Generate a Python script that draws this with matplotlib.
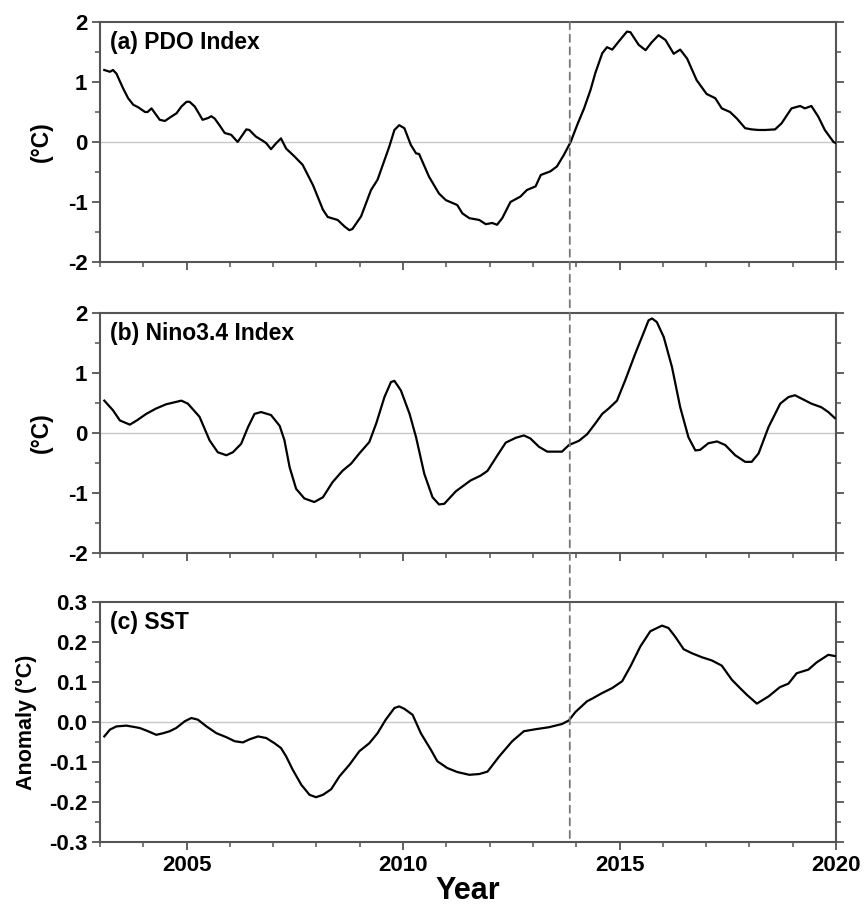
import matplotlib
matplotlib.use('Agg')
import matplotlib.pyplot as plt
from matplotlib.patches import ConnectionPatch
from matplotlib.ticker import MultipleLocator, FormatStrFormatter

plt.rcParams['font.family'] = ['Liberation Sans', 'DejaVu Sans']
plt.rcParams['font.weight'] = 'bold'
plt.rcParams['axes.unicode_minus'] = False

# (a) PDO index
pdo_year = [2003.1, 2003.23, 2003.3, 2003.38, 2003.53, 2003.65, 2003.77, 2003.88, 2004.04, 2004.1,
            2004.19, 2004.27, 2004.38, 2004.5, 2004.6, 2004.77, 2004.88, 2005.0, 2005.07, 2005.19,
            2005.37, 2005.5, 2005.57, 2005.65, 2005.76, 2005.88, 2006.03, 2006.18, 2006.38, 2006.45,
            2006.6, 2006.76, 2006.84, 2006.95, 2007.07, 2007.18, 2007.3, 2007.49, 2007.68, 2007.92,
            2008.15, 2008.26, 2008.49, 2008.65, 2008.76, 2008.83, 2009.03, 2009.26, 2009.41, 2009.68,
            2009.8, 2009.91, 2010.03, 2010.18, 2010.3, 2010.37, 2010.6, 2010.83, 2010.99, 2011.25,
            2011.37, 2011.53, 2011.76, 2011.91, 2012.06, 2012.17, 2012.29, 2012.48, 2012.71, 2012.86,
            2013.06, 2013.18, 2013.4, 2013.55, 2013.71, 2013.87, 2014.03, 2014.18, 2014.33, 2014.44,
            2014.6, 2014.71, 2014.83, 2015.02, 2015.17, 2015.25, 2015.44, 2015.6, 2015.74, 2015.9,
            2016.06, 2016.25, 2016.4, 2016.56, 2016.78, 2017.01, 2017.21, 2017.36, 2017.55, 2017.71,
            2017.9, 2018.05, 2018.21, 2018.36, 2018.59, 2018.74, 2018.97, 2019.17, 2019.28, 2019.43,
            2019.59, 2019.74, 2019.94, 2020.0]
pdo_val = [1.2, 1.17, 1.2, 1.14, 0.9, 0.73, 0.62, 0.58, 0.5, 0.5,
           0.56, 0.48, 0.37, 0.35, 0.4, 0.48, 0.59, 0.67, 0.67, 0.59,
           0.37, 0.4, 0.43, 0.39, 0.28, 0.15, 0.12, 0.0, 0.21, 0.2,
           0.09, 0.02, -0.02, -0.12, -0.02, 0.06, -0.11, -0.24, -0.38, -0.72,
           -1.13, -1.25, -1.3, -1.41, -1.47, -1.45, -1.24, -0.8, -0.63, -0.08,
           0.2, 0.28, 0.23, -0.05, -0.19, -0.2, -0.58, -0.86, -0.97, -1.05,
           -1.19, -1.27, -1.3, -1.37, -1.35, -1.38, -1.27, -1.0, -0.91, -0.8,
           -0.74, -0.55, -0.49, -0.41, -0.22, 0.0, 0.3, 0.56, 0.87, 1.15,
           1.48, 1.58, 1.54, 1.71, 1.84, 1.83, 1.62, 1.53, 1.66, 1.78,
           1.7, 1.47, 1.54, 1.39, 1.03, 0.8, 0.73, 0.56, 0.5, 0.39,
           0.23, 0.21, 0.2, 0.2, 0.21, 0.31, 0.56, 0.6, 0.56, 0.6,
           0.42, 0.2, 0.0, -0.02]

# (b) Nino3.4 index
nino_year = [2003.1, 2003.3, 2003.46, 2003.69, 2003.85, 2004.07, 2004.3, 2004.53, 2004.88, 2005.03,
             2005.3, 2005.53, 2005.72, 2005.92, 2006.07, 2006.26, 2006.42, 2006.57, 2006.72, 2006.95,
             2007.15, 2007.26, 2007.38, 2007.53, 2007.72, 2007.95, 2008.15, 2008.37, 2008.6, 2008.8,
             2008.99, 2009.22, 2009.38, 2009.57, 2009.72, 2009.8, 2009.95, 2010.15, 2010.3, 2010.49,
             2010.68, 2010.83, 2010.95, 2011.22, 2011.56, 2011.79, 2011.95, 2012.18, 2012.37, 2012.6,
             2012.79, 2012.94, 2013.14, 2013.33, 2013.67, 2013.83, 2014.06, 2014.25, 2014.44, 2014.6,
             2014.75, 2014.94, 2015.13, 2015.36, 2015.56, 2015.67, 2015.75, 2015.86, 2016.02, 2016.21,
             2016.4, 2016.59, 2016.75, 2016.86, 2017.05, 2017.25, 2017.44, 2017.67, 2017.9, 2018.05,
             2018.21, 2018.44, 2018.71, 2018.9, 2019.05, 2019.24, 2019.43, 2019.66, 2019.82, 2019.97]
nino_val = [0.54, 0.38, 0.21, 0.14, 0.21, 0.32, 0.41, 0.48, 0.54, 0.49,
            0.27, -0.12, -0.32, -0.37, -0.32, -0.18, 0.1, 0.32, 0.35, 0.3,
            0.12, -0.12, -0.57, -0.93, -1.09, -1.15, -1.07, -0.82, -0.63, -0.51,
            -0.34, -0.15, 0.16, 0.6, 0.85, 0.87, 0.71, 0.32, -0.07, -0.68,
            -1.07, -1.19, -1.18, -0.97, -0.79, -0.71, -0.63, -0.37, -0.16, -0.08,
            -0.04, -0.09, -0.23, -0.31, -0.31, -0.2, -0.13, -0.02, 0.16, 0.32,
            0.41, 0.54, 0.88, 1.32, 1.68, 1.88, 1.91, 1.85, 1.6, 1.1,
            0.43, -0.07, -0.29, -0.28, -0.17, -0.14, -0.2, -0.37, -0.48, -0.48,
            -0.34, 0.1, 0.49, 0.6, 0.63, 0.56, 0.49, 0.43, 0.35, 0.25]

# (c) SST anomaly
sst_year = [2003.1, 2003.23, 2003.38, 2003.61, 2003.77, 2003.92, 2004.11, 2004.3, 2004.46, 2004.61,
            2004.76, 2004.96, 2005.11, 2005.26, 2005.46, 2005.69, 2005.92, 2006.11, 2006.3, 2006.46,
            2006.65, 2006.84, 2007.03, 2007.18, 2007.3, 2007.45, 2007.65, 2007.84, 2007.99, 2008.15,
            2008.34, 2008.53, 2008.76, 2008.99, 2009.22, 2009.41, 2009.6, 2009.8, 2009.91, 2010.03,
            2010.22, 2010.41, 2010.64, 2010.79, 2011.02, 2011.25, 2011.53, 2011.76, 2011.95, 2012.22,
            2012.52, 2012.79, 2013.06, 2013.37, 2013.67, 2013.83, 2013.98, 2014.25, 2014.36, 2014.59,
            2014.83, 2015.06, 2015.25, 2015.48, 2015.71, 2015.98, 2016.13, 2016.28, 2016.48, 2016.67,
            2016.9, 2017.13, 2017.36, 2017.59, 2017.78, 2017.94, 2018.17, 2018.44, 2018.7, 2018.9,
            2019.09, 2019.36, 2019.55, 2019.82, 2019.97]
sst_val = [-0.036, -0.019, -0.011, -0.009, -0.012, -0.015, -0.023, -0.032, -0.028, -0.023,
           -0.015, 0.002, 0.01, 0.006, -0.011, -0.028, -0.038, -0.048, -0.051, -0.043,
           -0.036, -0.04, -0.053, -0.065, -0.086, -0.119, -0.157, -0.182, -0.188, -0.182,
           -0.168, -0.136, -0.107, -0.073, -0.053, -0.028, 0.006, 0.035, 0.039, 0.033,
           0.018, -0.028, -0.069, -0.098, -0.115, -0.125, -0.132, -0.13, -0.124, -0.086,
           -0.048, -0.023, -0.018, -0.013, -0.005, 0.004, 0.025, 0.052, 0.058, 0.072,
           0.085, 0.102, 0.139, 0.189, 0.227, 0.241, 0.235, 0.214, 0.182, 0.172,
           0.162, 0.154, 0.141, 0.106, 0.085, 0.068, 0.046, 0.064, 0.087, 0.096,
           0.122, 0.131, 0.149, 0.168, 0.165]

panel_titles = ['(a) PDO Index', '(b) Nino3.4 Index', '(c) SST']
shift_year = 2013.85

fig = plt.figure(figsize=(8.64, 9.09), dpi=100)
left, width, height = 0.1157, 0.852, 0.264
ax1 = fig.add_axes([left, 0.7118, width, height])
ax2 = fig.add_axes([left, 0.3916, width, height])
ax3 = fig.add_axes([left, 0.0737, width, height])
axes = [ax1, ax2, ax3]

series = [(pdo_year, pdo_val), (nino_year, nino_val), (sst_year, sst_val)]
spine_col = '#555555'

for ax, (xs, ys), title in zip(axes, series, panel_titles):
    ax.axhline(0, color='#c8c8c8', lw=1.0, zorder=1)
    ax.plot(xs, ys, color='black', lw=1.6, zorder=3)
    ax.set_xlim(2003, 2020)
    ax.xaxis.set_major_locator(MultipleLocator(5))
    ax.xaxis.set_minor_locator(MultipleLocator(1))
    for sp in ax.spines.values():
        sp.set_color(spine_col)
        sp.set_linewidth(1.5)
    ax.tick_params(axis='both', which='major', direction='out', length=6, width=1.3,
                   color=spine_col, labelsize=16, right=True, top=False, pad=3)
    ax.tick_params(axis='both', which='minor', direction='out', length=3.5, width=1.1,
                   color=spine_col, right=True, top=False)
    ax.text(0.014, 0.915, title, transform=ax.transAxes, fontsize=16.5,
            fontweight='bold', va='center', ha='left')

for ax in (ax1, ax2):
    ax.set_ylim(-2, 2)
    ax.yaxis.set_major_locator(MultipleLocator(1))
    ax.yaxis.set_minor_locator(MultipleLocator(0.5))
    ax.yaxis.set_major_formatter(FormatStrFormatter('%d'))
    ax.tick_params(axis='x', labelbottom=False)
    ax.set_ylabel('(°C)', fontsize=16.5, fontweight='bold')
    ax.yaxis.set_label_coords(-0.064, 0.5)

ax3.set_ylim(-0.3, 0.3)
ax3.yaxis.set_major_locator(MultipleLocator(0.1))
ax3.yaxis.set_minor_locator(MultipleLocator(0.05))
ax3.yaxis.set_major_formatter(FormatStrFormatter('%.1f'))
ax3.set_ylabel('Anomaly (°C)', fontsize=15.5, fontweight='bold')
ax3.yaxis.set_label_coords(-0.086, 0.5)
ax3.tick_params(axis='x', pad=3)
ax3.set_xlabel('Year', fontsize=22, fontweight='bold', labelpad=0)

# dashed line through all three panels
con = ConnectionPatch(xyA=(shift_year, 2), coordsA=ax1.transData,
                      xyB=(shift_year, -0.3), coordsB=ax3.transData,
                      linestyle=(0, (4, 3)), color='#777777', lw=1.3, zorder=5)
fig.add_artist(con)

fig.savefig('out.png', dpi=100)
